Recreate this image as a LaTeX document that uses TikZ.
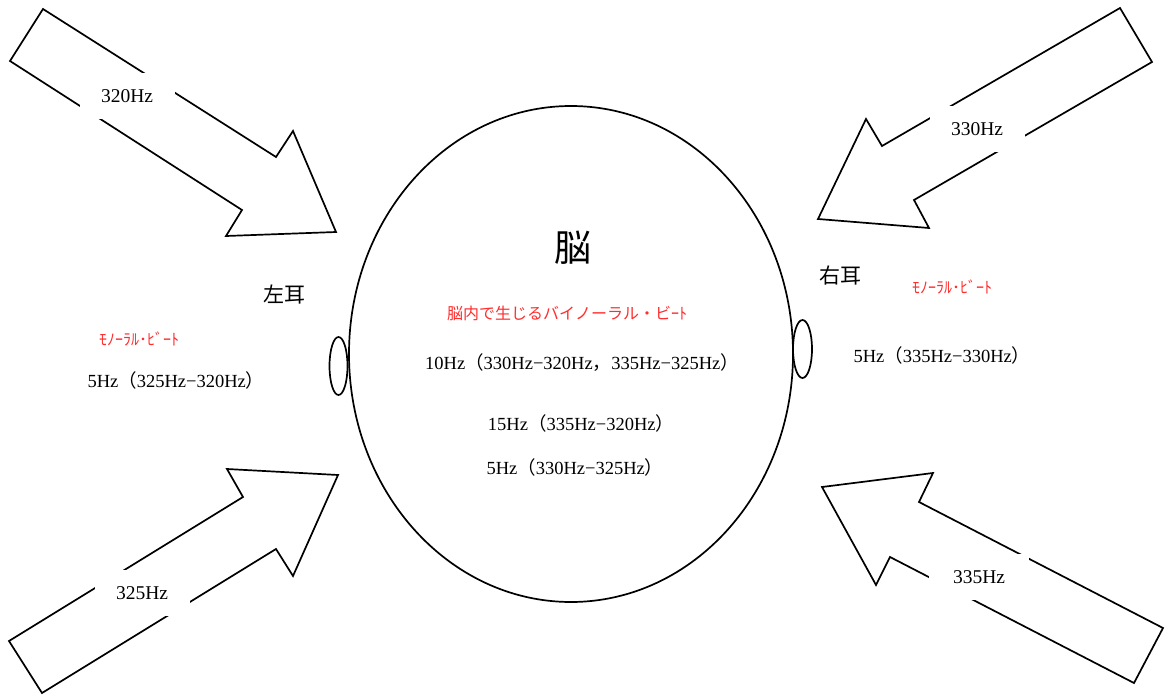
\documentclass[tikz,border=0pt]{standalone}
\usepackage{fontspec}
\setmainfont{Liberation Serif}
\newfontfamily\cjk{Noto Sans CJK JP}
\usetikzlibrary{shapes.geometric}
\definecolor{beatred}{RGB}{255,45,45}
\begin{document}
\begin{tikzpicture}[x=1pt,y=-1pt,
  outline/.style={draw=black, line width=1.7pt, line join=miter},
  freqlabel/.style={fill=white, minimum width=95pt, minimum height=46pt, inner sep=0pt, font=\fontsize{19.5}{20}\selectfont},
  txt/.style={font=\fontsize{18.5}{19}\selectfont, inner sep=0pt},
  earlbl/.style={font=\cjk\fontsize{21}{22}\selectfont, inner sep=0pt},
  beatlbl/.style={text=beatred, font=\cjk\fontsize{16}{17}\selectfont, inner sep=0pt},
  oval/.style={ellipse, draw=black, line width=1.7pt, inner sep=0pt}]
\useasboundingbox (0,0) rectangle (1169,698);

% arrows
\draw[outline] (43,9) -- (276,157) -- (293,131) -- (336,232) -- (226,236) -- (242,210) -- (10,61) -- cycle;
\draw[outline] (1120,8) -- (882,146) -- (866,119) -- (818,219) -- (929,228) -- (914,200) -- (1152,62) -- cycle;
\draw[outline] (9,641) -- (243,497) -- (227,469) -- (338,475) -- (293,576) -- (276,549) -- (42,693) -- cycle;
\draw[outline] (1163,628) -- (919,502) -- (933,473) -- (822,487) -- (876,585) -- (890,557) -- (1134,683) -- cycle;

% arrow labels
\node[freqlabel] (f320) at (127,96) {320Hz};
\node[freqlabel] (f330) at (977,129) {330Hz};
\node[freqlabel] (f325) at (142,593) {325Hz};
\node[freqlabel, minimum width=100pt] (f335) at (979,577) {335Hz};

% head and ears
\node[oval, minimum width=444pt, minimum height=496pt] (head) at (571,354) {};
\node[oval, minimum width=18pt, minimum height=58pt] (leftear) at (338.5,366) {};
\node[oval, minimum width=19pt, minimum height=58pt] (rightear) at (802.5,349) {};

% texts
\node[font=\cjk\fontsize{37}{39}\selectfont, inner sep=0pt] (brain) at (573,248) {脳};
\node[earlbl] (lear) at (284,295) {左耳};
\node[earlbl] (rear) at (840,276) {右耳};
\node[beatlbl] (lmono) at (139,339) {ﾓﾉｰﾗﾙ･ﾋﾞｰﾄ};
\node[txt] (lbeat) at (176,380) {5Hz{\cjk（}325Hz−320Hz{\cjk）}};
\node[beatlbl] (rmono) at (952,287) {ﾓﾉｰﾗﾙ･ﾋﾞｰﾄ};
\node[txt] (rbeat) at (942,355) {5Hz{\cjk（}335Hz−330Hz{\cjk）}};
\node[beatlbl] (binaural) at (567,313) {脳内で生じるバイノーラル・ビｰﾄ};
\node[txt] (b10) at (582,363) {10Hz{\cjk（}330Hz−320Hz{\cjk，}335Hz−325Hz{\cjk）}};
\node[txt] (b15) at (581,423) {15Hz{\cjk（}335Hz−320Hz{\cjk）}};
\node[txt] (b5) at (575,467) {5Hz{\cjk（}330Hz−325Hz{\cjk）}};
\end{tikzpicture}
\end{document}
